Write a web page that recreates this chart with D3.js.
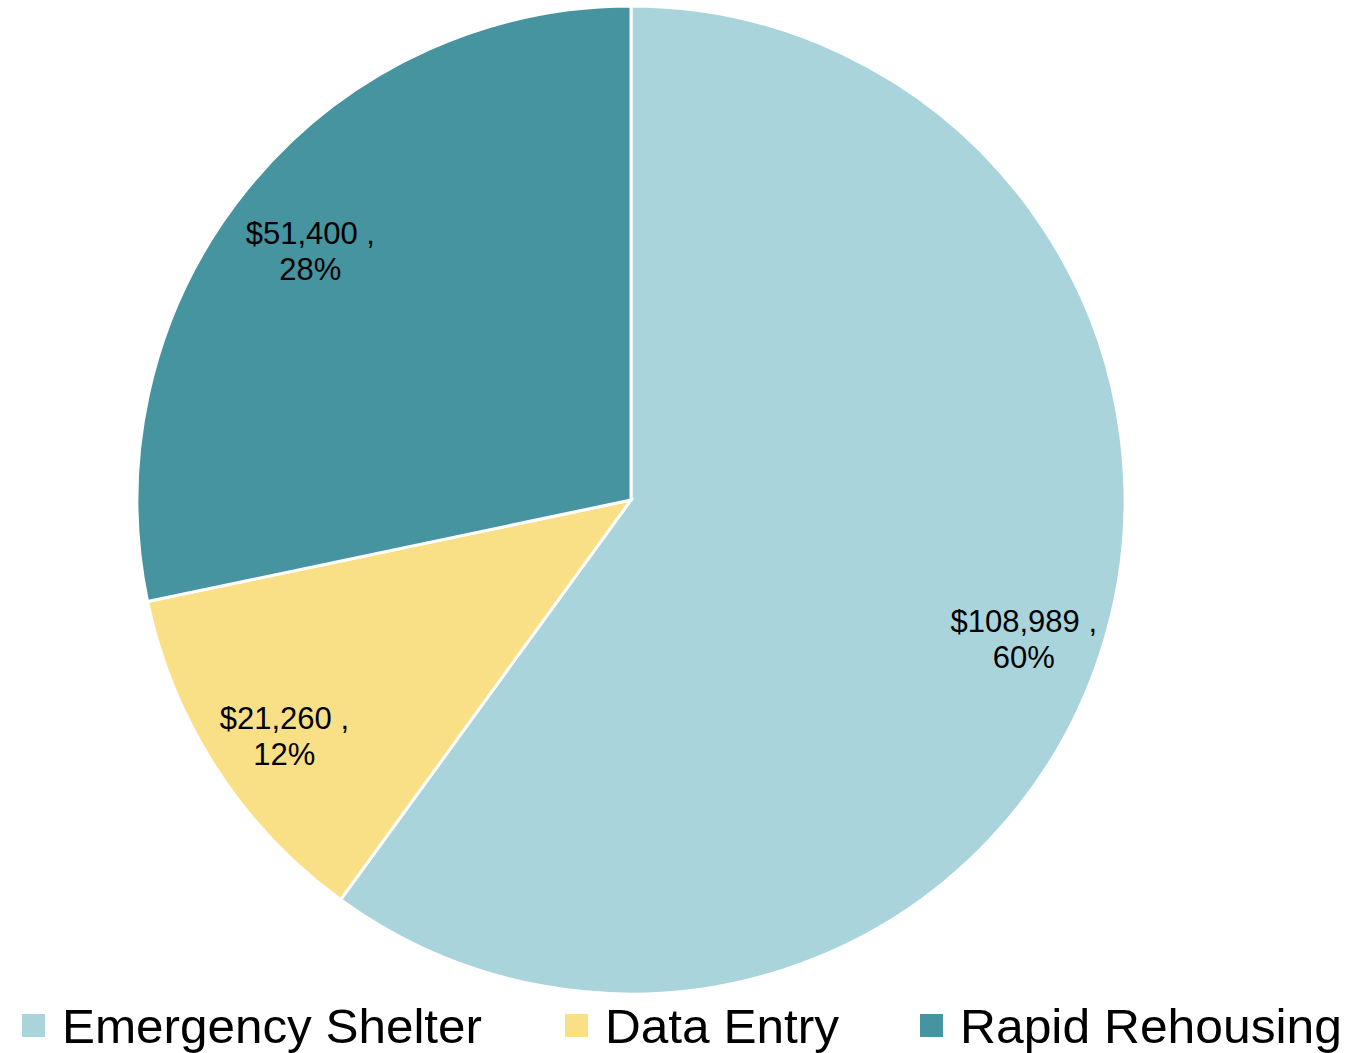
<!DOCTYPE html>
<html>
<head>
<meta charset="utf-8">
<script src="https://cdn.jsdelivr.net/npm/d3@7"></script>
<style>
  body { margin: 0; background: #fff; }
  svg { display: block; }
</style>
</head>
<body>
<div id="chart"></div>
<script>
// funding by program
var categories = ["Emergency Shelter", "Data Entry", "Rapid Rehousing"];
var amounts = [108989, 21260, 51400];
var percents = ["60%", "12%", "28%"];
var colors = ["#a9d4db", "#f9e086", "#4594a0"];

var width = 1370, height = 1053;
var cx = 631, cy = 500, radius = 494;

var svg = d3.select("#chart")
  .append("svg")
    .attr("width", width)
    .attr("height", height);

var data = categories.map(function(c, i) {
  return { name: c, value: amounts[i], pct: percents[i], color: colors[i] };
});

var pie = d3.pie()
  .sort(null)
  .value(d => d.value);

var arc = d3.arc()
  .innerRadius(0)
  .outerRadius(radius);

var labelArc = d3.arc()
  .innerRadius(413)
  .outerRadius(413);

var g = svg.append("g")
  .attr("transform", "translate(" + cx + "," + cy + ")");

var arcs = pie(data);

g.selectAll("path")
  .data(arcs)
  .enter()
  .append("path")
    .attr("d", arc)
    .style("fill", d => d.data.color)
    .style("stroke", "#fff")
    .style("stroke-width", 3)
    .style("stroke-linejoin", "miter");

var fmt = d3.format(",");

var labels = g.selectAll("text.lbl")
  .data(arcs)
  .enter()
  .append("text")
    .attr("class", "lbl")
    .attr("transform", d => "translate(" + labelArc.centroid(d) + ")")
    .attr("text-anchor", "middle")
    .style("font-family", "'Liberation Sans', Arial, sans-serif")
    .style("font-size", "31px")
    .style("fill", "#000");

labels.append("tspan")
  .attr("x", 0)
  .attr("y", 4)
  .text(d => "$" + fmt(d.data.value) + " ,");

labels.append("tspan")
  .attr("x", 0)
  .attr("y", 40)
  .text(d => d.data.pct);

// legend
var legendX = [22, 565, 920];
var legendW = [420, 234, 382];

var legend = svg.selectAll("g.legend")
  .data(data)
  .enter()
  .append("g")
    .attr("class", "legend")
    .attr("transform", (d, i) => "translate(" + legendX[i] + ",1014)");

legend.append("rect")
  .attr("width", 23)
  .attr("height", 23)
  .style("fill", d => d.color);

legend.append("text")
  .attr("x", 40)
  .attr("y", 29)
  .attr("textLength", (d, i) => legendW[i])
  .attr("lengthAdjust", "spacingAndGlyphs")
  .style("font-family", "'Liberation Sans Narrow', 'Liberation Sans', Arial, sans-serif")
  .style("font-size", "48px")
  .style("fill", "#000")
  .text(d => d.name);
</script>
</body>
</html>
